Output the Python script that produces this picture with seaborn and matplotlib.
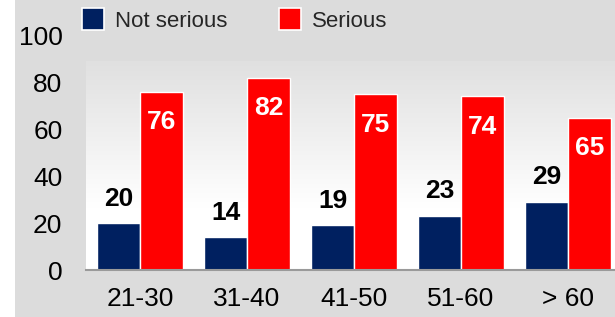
import numpy as np
import pandas as pd
import matplotlib
matplotlib.use("Agg")
import matplotlib.pyplot as plt
from matplotlib.patches import Rectangle, Patch
from matplotlib.colors import LinearSegmentedColormap
import seaborn as sns

# data
age_groups = ["21-30", "31-40", "41-50", "51-60", "> 60"]
not_serious = [20, 14, 19, 23, 29]
serious = [76, 82, 75, 74, 65]
series_names = ["Not serious", "Serious"]

navy = "#002060"
red = "#FF0000"
bg = "#DCDCDC"

df = pd.DataFrame({
    "age": age_groups * 2,
    "pct": not_serious + serious,
    "group": [series_names[0]] * len(age_groups) + [series_names[1]] * len(age_groups),
})

sns.set_style("white")
plt.rcParams["font.family"] = ["Liberation Sans", "DejaVu Sans"]

W, H = 615, 317
fig = plt.figure(figsize=(W / 100, H / 100), dpi=100)
fig.patch.set_facecolor(bg)
# white strip down the left edge
fig.add_artist(Rectangle((0, 0), 15 / W, 1, transform=fig.transFigure,
                         facecolor="white", edgecolor="none", zorder=-1))

ax = fig.add_axes([86 / W, 47 / H, 529 / W, 234.5 / H])
ax.set_facecolor("none")

sns.barplot(data=df, x="age", y="pct", hue="group", palette=[navy, red],
            saturation=1, width=0.8, edgecolor="white", linewidth=1.0,
            ax=ax, legend=False, zorder=2)

xlim = (-0.505, 4.44)
ylim = (0, 100)

# gradient panel behind the bars
grad_top = 88.7
cmap = LinearSegmentedColormap.from_list("g", [(0, "#FFFFFF"), (0.3, "#FFFFFF"), (1, "#E0E0E0")])
grad = np.linspace(0, 1, 256).reshape(-1, 1)
ax.imshow(grad, cmap=cmap, origin="lower", aspect="auto",
          extent=(xlim[0], xlim[1], 0, grad_top), zorder=0)

ax.set_xlim(*xlim)
ax.set_ylim(*ylim)
ax.set_yticks([0, 20, 40, 60, 80, 100])
ax.set_xlabel("")
ax.set_ylabel("")
ax.tick_params(axis="both", length=0, labelsize=19, colors="black")
ax.tick_params(axis="y", pad=17)
ax.tick_params(axis="x", pad=12)

for s in ["top", "right", "left"]:
    ax.spines[s].set_visible(False)
ax.spines["bottom"].set_color("#9A9A9A")
ax.spines["bottom"].set_linewidth(1.5)
ax.spines["bottom"].set_zorder(3)

# value labels
for i, cont in enumerate(ax.containers):
    for bar in cont:
        x = bar.get_x() + bar.get_width() / 2
        h = bar.get_height()
        if i == 0:
            ax.text(x, h + 7.5, f"{h:.0f}", ha="center", va="baseline",
                    fontsize=19, fontweight="bold", color="black", zorder=4)
        else:
            ax.text(x, h - 16, f"{h:.0f}", ha="center", va="baseline",
                    fontsize=19, fontweight="bold", color="white", zorder=4)

handles = [Patch(facecolor=navy, edgecolor="white", linewidth=1.2),
           Patch(facecolor=red, edgecolor="white", linewidth=1.2)]
fig.legend(handles, series_names, loc="upper left",
           bbox_to_anchor=(82 / W, 1 - 8 / H), ncol=2, frameon=False,
           fontsize=16, handlelength=1.0, handleheight=1.15,
           handletextpad=0.5, columnspacing=2.3, borderpad=0, borderaxespad=0)

fig.savefig("out.png", dpi=100, facecolor=fig.get_facecolor())
